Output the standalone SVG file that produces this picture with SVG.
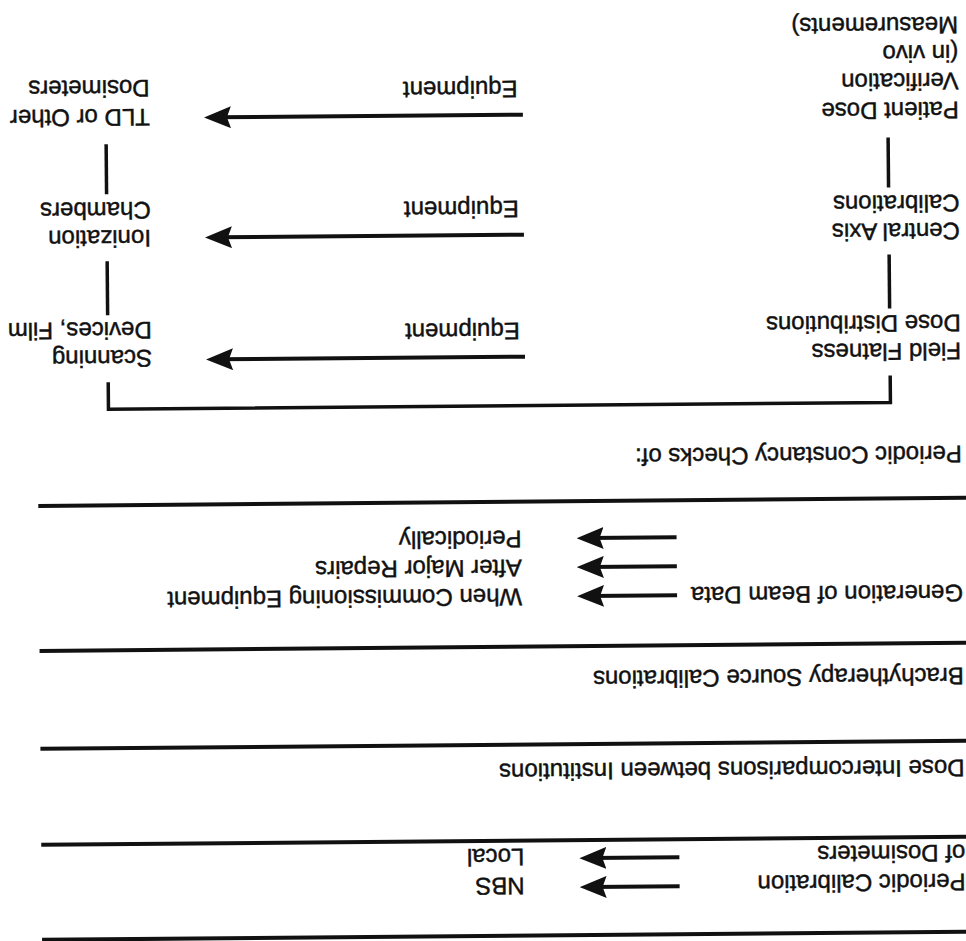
<svg xmlns="http://www.w3.org/2000/svg" width="966" height="941" viewBox="0 0 966 941">
<defs>
<style>
text { font-family: "Liberation Sans", Arial, sans-serif; font-size: 24px; fill: #111; stroke: #111; stroke-width: 0.45px; }
.rule { stroke: #111; stroke-width: 4; }
.conn { stroke: #111; stroke-width: 3.5; fill: none; }
.arrow { stroke: #111; stroke-width: 4; fill: none; marker-end: url(#ah); }
</style>
<marker id="ah" markerUnits="userSpaceOnUse" markerWidth="27" markerHeight="22" refX="16" refY="11" orient="auto">
<path d="M0,0 L27,11 L0,22 L4,11 Z" fill="#111"/>
</marker>
</defs>
<rect width="966" height="941" fill="#fff"/>
<g transform="rotate(179.5 483 470.5)">
<g id="rules">
<line class="rule" x1="-12" y1="5" x2="928" y2="5"/>
<line class="rule" x1="-12" y1="100" x2="928" y2="100"/>
<line class="rule" x1="-12" y1="196" x2="928" y2="196"/>
<line class="rule" x1="-12" y1="294" x2="928" y2="294"/>
<line class="rule" x1="-12" y1="439" x2="928" y2="439"/>
</g>
<g id="n-periodic-calibration"><text x="4" y="63">Periodic Calibration</text><text x="4" y="92">of Dosimeters</text></g>
<g id="n-nbs"><text x="445" y="63">NBS</text></g>
<g id="n-local"><text x="445" y="92">Local</text></g>
<g id="n-dose-intercomparisons"><text x="4" y="177">Dose Intercomparisons between Institutions</text></g>
<g id="n-brachytherapy"><text x="4" y="269">Brachytherapy Source Calibrations</text></g>
<g id="n-generation"><text x="4" y="352">Generation of Beam Data</text></g>
<g id="n-commissioning"><text x="445" y="352">When Commissioning Equipment</text></g>
<g id="n-repairs"><text x="445" y="381">After Major Repairs</text></g>
<g id="n-periodically"><text x="445" y="410">Periodically</text></g>
<g id="n-constancy"><text x="4" y="491">Periodic Constancy Checks of:</text></g>
<g id="n-field-flatness"><text x="4" y="594">Field Flatness</text><text x="4" y="622">Dose Distributions</text></g>
<g id="n-scanning"><text x="813" y="594">Scanning</text><text x="813" y="622">Devices, Film</text></g>
<g id="n-central-axis"><text x="4" y="714">Central Axis</text><text x="4" y="742">Calibrations</text></g>
<g id="n-ionization"><text x="813" y="714">Ionization</text><text x="813" y="742">Chambers</text></g>
<g id="n-patient-dose"><text x="4" y="835">Patient Dose</text><text x="4" y="864">Verification</text><text x="4" y="892">(in vivo</text><text x="4" y="920">Measurements)</text></g>
<g id="n-tld"><text x="813" y="835">TLD or Other</text><text x="813" y="864">Dosimeters</text></g>
<g id="connectors">
<line class="arrow" x1="290" y1="53" x2="379" y2="53"/>
<line class="arrow" x1="290" y1="82" x2="379" y2="82"/>
<line class="arrow" x1="290" y1="344" x2="379" y2="344"/>
<line class="arrow" x1="290" y1="373" x2="379" y2="373"/>
<line class="arrow" x1="290" y1="402" x2="379" y2="402"/>
<path class="conn" d="M75,562 V535 H857 V562"/>
<line class="arrow" x1="440" y1="584" x2="748" y2="584"/>
<line class="arrow" x1="440" y1="706" x2="748" y2="706"/>
<line class="arrow" x1="440" y1="826" x2="748" y2="826"/>
<text x="445" y="618">Equipment</text>
<text x="445" y="740">Equipment</text>
<text x="445" y="860">Equipment</text>
<line class="conn" x1="75" y1="629" x2="75" y2="683"/>
<line class="conn" x1="857" y1="629" x2="857" y2="683"/>
<line class="conn" x1="75" y1="750" x2="75" y2="800"/>
<line class="conn" x1="857" y1="750" x2="857" y2="800"/>
</g>
</g>
</svg>
